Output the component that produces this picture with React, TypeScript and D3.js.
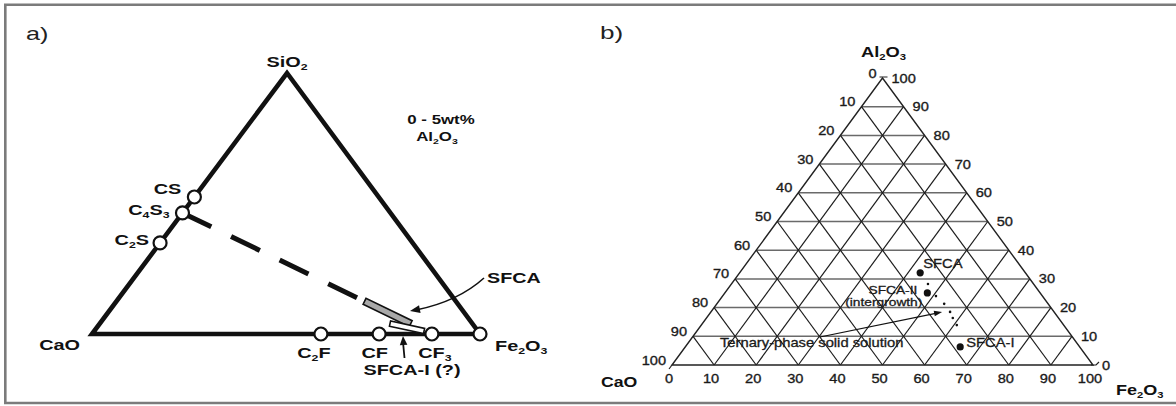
import React, { useEffect, useRef } from 'react';
import * as d3 from 'd3';

const WIDTH = 1176;
const HEIGHT = 406;
const FONT = 'Liberation Sans, Arial, Helvetica, sans-serif';

// ---------- panel a) CaO - SiO2 - Fe2O3 (0 - 5 wt% Al2O3), mass fractions ----------
const phaseNamesA = ['CS', 'C4S3', 'C2S', 'C2F', 'CF', 'CF3', 'Fe2O3'];
const phaseSiO2A = [0.525, 0.464, 0.349, 0, 0, 0, 0];
const phaseFe2O3A = [0, 0, 0, 0.59, 0.74, 0.876, 1];
// SFCA lies on the C4S3 - CF3 join (fraction along the join)
const sfcaJoinRange = [0.73, 0.915];
// SFCA-I (?) strip, two end compositions
const sfca1SiO2 = [0.04, 0.0115];
const sfca1Fe2O3 = [0.748, 0.85];

// ---------- panel b) CaO - Al2O3 - Fe2O3, wt% ----------
const ticksB = [0, 10, 20, 30, 40, 50, 60, 70, 80, 90, 100];
const phaseNamesB = ['SFCA', 'SFCA-II', 'SFCA-I'];
const phaseAl2O3B = [32.1, 25.1, 6.3];
const phaseFe2O3B = [42.9, 48.1, 65.3];
// ternary-phase solid solution analyses
const ssAl2O3B = [28.2, 24.0, 21.3, 18.5, 16.4, 13.9];
const ssFe2O3B = [46.7, 50.7, 54.0, 56.8, 58.5, 60.7];
const ssArrowTarget = { al: 18.5, fe: 54.9 };

type Pt = [number, number];

interface TextOpts {
  size: number;
  bold?: boolean;
  sx?: number;
  anchor?: string;
  chem?: boolean;
  fill?: string;
  halo?: number;
}

// text is stretched horizontally like the scanned figure
const addText = (
  g: d3.Selection<any, unknown, null, undefined>,
  x: number,
  y: number,
  str: string,
  o: TextOpts
) => {
  const t = g.append('text')
    .attr('transform', `translate(${x},${y}) scale(${o.sx ?? 1},1)`)
    .attr('text-anchor', o.anchor ?? 'start')
    .attr('font-family', FONT)
    .attr('font-size', o.size)
    .attr('font-weight', o.bold ? 'bold' : 'normal')
    .attr('fill', o.fill ?? '#111');
  if (o.halo) t.attr('stroke', o.fill ?? '#111').attr('stroke-width', o.halo);
  if (!o.chem) {
    t.text(str);
    return t;
  }
  const parts = str.match(/\d+|\D+/g) ?? [];
  let down = false;
  parts.forEach(p => {
    const ts = t.append('tspan').text(p);
    if (/^\d+$/.test(p)) {
      ts.attr('font-size', o.size * 0.62).attr('dy', o.size * 0.22);
      down = true;
    } else if (down) {
      ts.attr('dy', -o.size * 0.22);
      down = false;
    }
  });
  return t;
};

const arrowHead = (
  g: d3.Selection<any, unknown, null, undefined>,
  tip: Pt,
  from: Pt,
  len = 9,
  half = 3.5
) => {
  const ang = Math.atan2(tip[1] - from[1], tip[0] - from[0]);
  const bx = tip[0] - len * Math.cos(ang);
  const by = tip[1] - len * Math.sin(ang);
  const nx = -Math.sin(ang) * half;
  const ny = Math.cos(ang) * half;
  g.append('path')
    .attr('d', `M${tip[0]},${tip[1]}L${bx + nx},${by + ny}L${bx - nx},${by - ny}Z`)
    .attr('fill', '#111');
};

// rotated strip between two points
const stripPath = (a: Pt, b: Pt, half: number) => {
  const ang = Math.atan2(b[1] - a[1], b[0] - a[0]);
  const nx = -Math.sin(ang) * half;
  const ny = Math.cos(ang) * half;
  return `M${a[0] + nx},${a[1] + ny}L${b[0] + nx},${b[1] + ny}L${b[0] - nx},${b[1] - ny}L${a[0] - nx},${a[1] - ny}Z`;
};

const App: React.FC = () => {
  const svgRef = useRef<SVGSVGElement>(null);

  useEffect(() => {
    const svg = d3.select(svgRef.current);
    svg.selectAll('*').remove();

    svg.append('rect').attr('width', WIDTH).attr('height', HEIGHT).attr('fill', '#fff');

    // frame
    svg.append('path')
      .attr('d', `M${WIDTH},4.7H5.3V403H${WIDTH}`)
      .attr('fill', 'none')
      .attr('stroke', '#7b7b7b')
      .attr('stroke-width', 2.6);

    addText(svg, 26, 40, 'a)', { size: 18, sx: 1.4, fill: '#222' });
    addText(svg, 600, 39, 'b)', { size: 18, sx: 1.45, fill: '#222' });

    // ================= panel a =================
    const ga = svg.append('g');
    const xA = d3.scaleLinear().domain([0, 1]).range([92, 480]);
    const yA = d3.scaleLinear().domain([0, 1]).range([334, 73]);
    const apexShiftA = 0.5026;
    const pA = (si: number, fe: number): Pt => [xA(fe + si * apexShiftA), yA(si)];

    const caoA = pA(0, 0);
    const sio2A = pA(1, 0);
    const fe2o3A = pA(0, 1);

    ga.append('path')
      .attr('d', d3.line()([caoA, sio2A, fe2o3A]) + 'Z')
      .attr('fill', 'none')
      .attr('stroke', '#111')
      .attr('stroke-width', 4.6)
      .attr('stroke-linejoin', 'miter');

    const phasePts = phaseNamesA.map((n, i) => pA(phaseSiO2A[i], phaseFe2O3A[i]));
    const c4s3 = { si: phaseSiO2A[1], fe: phaseFe2O3A[1] };
    const cf3 = { si: phaseSiO2A[5], fe: phaseFe2O3A[5] };
    const onJoin = (t: number) => pA(c4s3.si + (cf3.si - c4s3.si) * t, c4s3.fe + (cf3.fe - c4s3.fe) * t);

    // dashed join C4S3 - SFCA
    const dashEnd = onJoin(0.703);
    ga.append('line')
      .attr('x1', phasePts[1][0]).attr('y1', phasePts[1][1])
      .attr('x2', dashEnd[0]).attr('y2', dashEnd[1])
      .attr('stroke', '#111')
      .attr('stroke-width', 5)
      .attr('stroke-dasharray', '32,22');

    // SFCA strip
    ga.append('path')
      .attr('d', stripPath(onJoin(sfcaJoinRange[0]), onJoin(sfcaJoinRange[1]), 3.3))
      .attr('fill', '#a9a9a9')
      .attr('stroke', '#111')
      .attr('stroke-width', 1.6);

    // SFCA-I (?) strip
    ga.append('path')
      .attr('d', stripPath(pA(sfca1SiO2[0], sfca1Fe2O3[0]), pA(sfca1SiO2[1], sfca1Fe2O3[1]), 2.7))
      .attr('fill', '#fff')
      .attr('stroke', '#111')
      .attr('stroke-width', 1.6);

    // phase circles
    ga.selectAll('circle.phase')
      .data(phasePts)
      .enter().append('circle')
      .attr('class', 'phase')
      .attr('cx', d => d[0])
      .attr('cy', d => d[1])
      .attr('r', 6.5)
      .attr('fill', '#fff')
      .attr('stroke', '#111')
      .attr('stroke-width', 2.2);

    const labA = { size: 14, bold: true, sx: 1.42, chem: true };
    const labelLayoutA: Record<string, [number, number, string]> = {
      CS: [-13, -3, 'end'],
      C4S3: [-13, 2, 'end'],
      C2S: [-11, 2, 'end'],
      C2F: [-7, 24, 'middle'],
      CF: [-4.5, 24, 'middle'],
      CF3: [3, 24, 'middle'],
      Fe2O3: [15, 17, 'start'],
    };
    phaseNamesA.forEach((n, i) => {
      const [dx, dy, anchor] = labelLayoutA[n];
      addText(ga, phasePts[i][0] + dx, phasePts[i][1] + dy, n, { ...labA, anchor });
    });
    addText(ga, caoA[0] - 12, caoA[1] + 16, 'CaO', { ...labA, anchor: 'end' });
    addText(ga, sio2A[0], sio2A[1] - 6, 'SiO2', { ...labA, anchor: 'middle' });
    addText(ga, 441, 124, '0 - 5wt%', { size: 12.5, bold: true, sx: 1.35, anchor: 'middle' });
    addText(ga, 437, 141, 'Al2O3', { size: 12.5, bold: true, sx: 1.35, anchor: 'middle', chem: true });

    // SFCA arrow (curved)
    const sfcaTip: Pt = [410, 311];
    const sfcaCtrl: Pt = [458, 301.5];
    ga.append('path')
      .attr('d', `M484,278Q${sfcaCtrl[0]},${sfcaCtrl[1]} ${sfcaTip[0] + 6},${sfcaTip[1] - 1}`)
      .attr('fill', 'none')
      .attr('stroke', '#111')
      .attr('stroke-width', 1.6);
    arrowHead(ga, sfcaTip, sfcaCtrl, 10, 4);
    addText(ga, 487, 283, 'SFCA', { size: 14.5, bold: true, sx: 1.36 });

    // SFCA-I arrow
    const s1Tip: Pt = [403, 336];
    ga.append('line')
      .attr('x1', 404.5).attr('y1', 358)
      .attr('x2', s1Tip[0]).attr('y2', s1Tip[1] + 6)
      .attr('stroke', '#111')
      .attr('stroke-width', 1.8);
    arrowHead(ga, s1Tip, [404.5, 358], 9, 3.8);
    addText(ga, 412, 375, 'SFCA-I (?)', { size: 14, bold: true, sx: 1.42, anchor: 'middle' });

    // ================= panel b =================
    const gb = svg.append('g');
    const xB = d3.scaleLinear().domain([0, 100]).range([672, 1093]);
    const yB = d3.scaleLinear().domain([0, 100]).range([365, 78]);
    const pB = (al: number, fe: number): Pt => [xB(fe + al / 2), yB(al)];
    const line = d3.line();

    const inner = ticksB.filter(v => v > 0 && v < 100);
    // constant Al2O3
    inner.forEach(v => {
      gb.append('path')
        .attr('d', line([pB(v, 0), pB(v, 100 - v)]))
        .attr('stroke', '#6a6a6a')
        .attr('stroke-width', 1.5);
    });
    // constant Fe2O3 and constant CaO
    inner.forEach(v => {
      gb.append('path')
        .attr('d', line([pB(0, v), pB(100 - v, v)]))
        .attr('stroke', '#1c1c1c')
        .attr('stroke-width', 1.2);
      gb.append('path')
        .attr('d', line([pB(0, 100 - v), pB(100 - v, 0)]))
        .attr('stroke', '#1c1c1c')
        .attr('stroke-width', 1.2);
    });
    // outline
    gb.append('path')
      .attr('d', line([pB(0, 0), pB(100, 0), pB(0, 100)]) + 'Z')
      .attr('fill', 'none')
      .attr('stroke', '#222')
      .attr('stroke-width', 1.4);

    // small corner ticks
    const apex = pB(100, 0);
    const bl = pB(0, 0);
    const br = pB(0, 100);
    gb.append('path')
      .attr('d', `M${apex[0] - 3},${apex[1] - 1}H${apex[0] + 5}M${bl[0]},${bl[1]}L${bl[0] - 3},${bl[1] + 4}M${br[0] - 2},${br[1]}H${br[0] + 3}L${br[0] + 6},${br[1] - 3}`)
      .attr('fill', 'none')
      .attr('stroke', '#222')
      .attr('stroke-width', 1.2);

    const tickOpt = { size: 13.5, sx: 1.08, fill: '#1a1a1a', halo: 0.35 };
    ticksB.forEach(v => {
      // Fe2O3 along the base
      addText(gb, xB(v) - 3, 383, String(v), { ...tickOpt, anchor: 'middle' });
      // CaO along the left edge
      const l = pB(100 - v, 0);
      addText(gb, l[0] - 6, l[1] - 0.5, String(v), { ...tickOpt, anchor: 'end' });
      // Al2O3 along the right edge
      const r = pB(v, 100 - v);
      addText(gb, r[0] + 9, r[1] + 4.5, String(v), { ...tickOpt, anchor: 'start' });
    });

    addText(gb, apex[0] + 1, 57, 'Al2O3', { size: 15, bold: true, sx: 1.22, anchor: 'middle', chem: true });
    addText(gb, 601, 387, 'CaO', { size: 15, bold: true, sx: 1.18, chem: true });
    addText(gb, 1116, 395, 'Fe2O3', { size: 15, bold: true, sx: 1.2, chem: true });

    // solid-solution dots
    ssAl2O3B.forEach((al, i) => {
      const p = pB(al, ssFe2O3B[i]);
      gb.append('circle').attr('cx', p[0]).attr('cy', p[1]).attr('r', 1.3).attr('fill', '#111');
    });

    // phases
    const phasePtsB = phaseNamesB.map((n, i) => pB(phaseAl2O3B[i], phaseFe2O3B[i]));
    gb.selectAll('circle.phase')
      .data(phasePtsB)
      .enter().append('circle')
      .attr('class', 'phase')
      .attr('cx', d => d[0])
      .attr('cy', d => d[1])
      .attr('r', 3.6)
      .attr('fill', '#111');

    const labB = { size: 12.5, sx: 1.18, fill: '#1a1a1a', halo: 0.3 };
    const labSmall = { ...labB, size: 11, sx: 1.25 };
    addText(gb, phasePtsB[0][0] + 3, phasePtsB[0][1] - 5, 'SFCA', labB);
    addText(gb, phasePtsB[1][0] - 10, phasePtsB[1][1] + 1, 'SFCA-II', { ...labSmall, anchor: 'end' });
    addText(gb, phasePtsB[1][0] - 5, phasePtsB[1][1] + 13, '(intergrowth)', { ...labSmall, anchor: 'end' });
    addText(gb, phasePtsB[2][0] + 6, phasePtsB[2][1], 'SFCA-I', labB);

    // ternary-phase solid solution arrow
    const ssTip = pB(ssArrowTarget.al, ssArrowTarget.fe);
    const ssTail: Pt = [820, 337];
    gb.append('line')
      .attr('x1', ssTail[0]).attr('y1', ssTail[1])
      .attr('x2', ssTip[0] - 4).attr('y2', ssTip[1] + 1)
      .attr('stroke', '#111')
      .attr('stroke-width', 1.2);
    arrowHead(gb, ssTip, ssTail, 8, 2.8);
    addText(gb, 720, 347, 'Ternary-phase solid solution', labB);
  }, []);

  return (
    <svg
      ref={svgRef}
      width={WIDTH}
      height={HEIGHT}
      style={{ position: 'absolute', left: 0, top: 0, display: 'block' }}
    />
  );
};

export default App;
